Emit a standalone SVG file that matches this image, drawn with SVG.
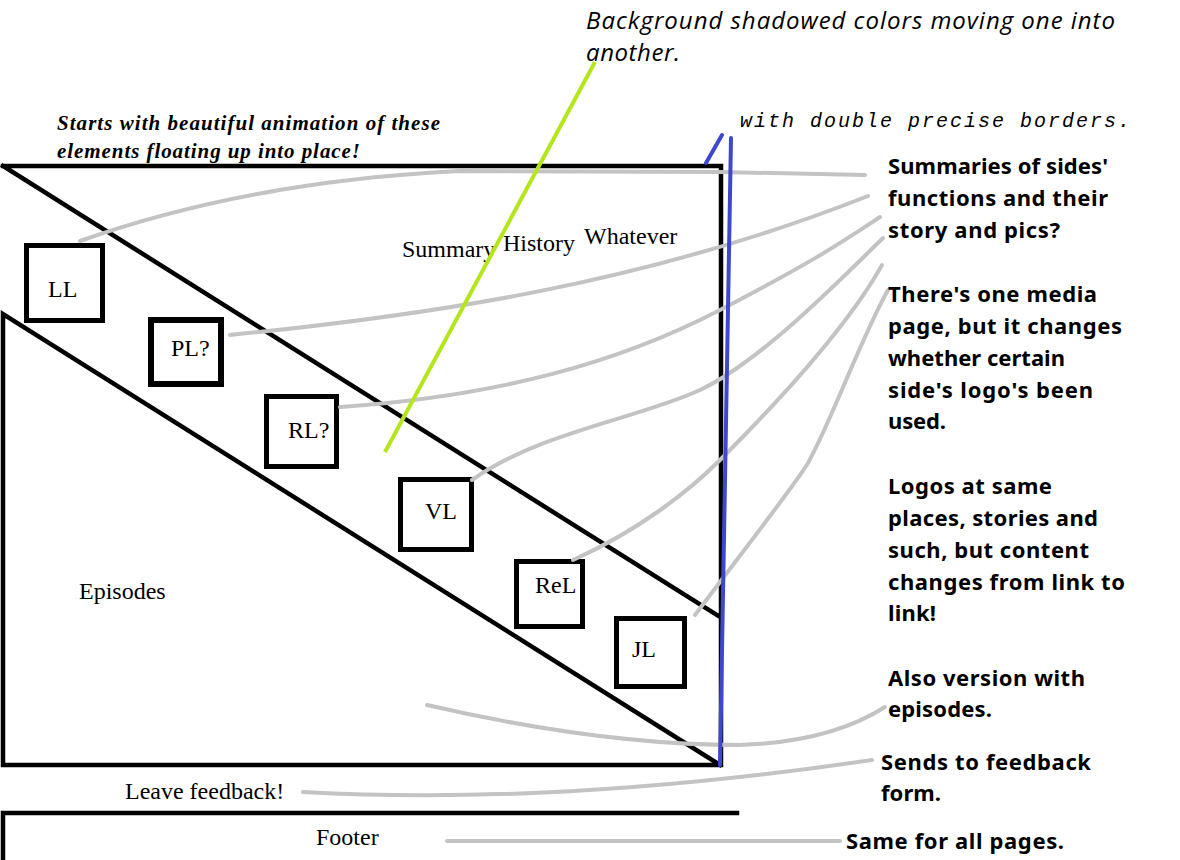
<svg xmlns="http://www.w3.org/2000/svg" width="1180" height="860" viewBox="0 0 1180 860">
  <style>
    .frame { fill: none; stroke: #000; stroke-width: 4.5; stroke-linecap: square; stroke-linejoin: miter; }
    .box { fill: #fff; stroke: #000; stroke-width: 5; }
    .lbl { font-family: "Liberation Serif", "Times New Roman", serif; font-size: 24px; fill: #000; }
    .note { font-family: "Noto Sans", "Liberation Sans", sans-serif; font-weight: bold; font-size: 22px; fill: #000; }
    .link { fill: none; stroke: #c3c3c3; stroke-width: 4; stroke-linecap: round; stroke-linejoin: round; }
    .script { font-family: "Liberation Serif", "DejaVu Serif", serif; font-style: italic; font-weight: bold; font-size: 21px; fill: #000; }
    .bg { font-family: "Open Sans", "Liberation Sans", sans-serif; font-style: italic; font-size: 24px; fill: #000; }
    .mono { font-family: "Liberation Mono", "DejaVu Sans Mono", monospace; font-style: italic; font-size: 20px; fill: #000; }
  </style>
  <rect width="1180" height="860" fill="#fff"/>

  <!-- page outline: header band, diagonal logo strip, episodes area, footer -->
  <g id="page-frame">
    <path class="frame" d="M3,166 H721 V765 H3 V314 L720,765 M3,166 L720,617"/>
    <path class="frame" d="M3,860 V813 H737"/>
  </g>

  <g id="tabs">
    <text class="lbl" x="402" y="257">Summary</text>
    <text class="lbl" x="503" y="251">History</text>
    <text class="lbl" x="584" y="244">Whatever</text>
  </g>

  <g id="episodes"><text class="lbl" x="79" y="599">Episodes</text></g>
  <g id="feedback"><text class="lbl" x="125" y="799">Leave feedback!</text></g>
  <g id="footer"><text class="lbl" x="316" y="845">Footer</text></g>

  <!-- logo boxes along the diagonal -->
  <g id="logo-ll"><rect class="box" x="26.5" y="245.5" width="76" height="75"/><text class="lbl" x="48" y="297">LL</text></g>
  <g id="logo-pl"><rect class="box" x="151" y="320" width="70" height="64" style="stroke-width:6"/><text class="lbl" x="171" y="356">PL?</text></g>
  <g id="logo-rl"><rect class="box" x="266.5" y="396.5" width="70" height="70"/><text class="lbl" x="288" y="438">RL?</text></g>
  <g id="logo-vl"><rect class="box" x="400.5" y="479.5" width="71" height="70"/><text class="lbl" x="425" y="519">VL</text></g>
  <g id="logo-rel"><rect class="box" x="516.5" y="561.5" width="66" height="65"/><text class="lbl" x="535" y="593">ReL</text></g>
  <g id="logo-jl"><rect class="box" x="616.5" y="618.5" width="68" height="68"/><text class="lbl" x="632" y="657">JL</text></g>

  <!-- callout lines -->
  <g id="connectors">
    <path class="link" d="M80,241 Q250,181 460,171 L720,172 L865,175"/>
    <path class="link" d="M230,335 C420,316 640,286 868,196"/>
    <path class="link" d="M340,407 C500,396 620,362 720,310 S845,240 880,217"/>
    <path class="link" d="M472,480 C540,432 640,418 700,390 S840,280 883,238"/>
    <path class="link" d="M573,560 C640,530 690,490 720,460 S840,340 882,265"/>
    <path class="link" d="M695,615 C740,555 795,485 808,463 C832,420 860,340 888,290"/>
    <path class="link" d="M427,705 Q600,745 740,745 Q830,742 885,707"/>
    <path class="link" d="M303,792 Q560,806 872,760"/>
    <path class="link" d="M447,841 H840"/>
    <!-- accent strokes -->
    <path d="M595,62 L385,452" fill="none" stroke="#b5e61d" stroke-width="4"/>
    <path d="M731,138 L720,765 M706,163 L722,135" fill="none" stroke="#3f48cc" stroke-width="4" stroke-linecap="round"/>
  </g>

  <!-- annotations -->
  <g id="note-intro">
    <text class="script" x="57" y="130" textLength="383">Starts with beautiful animation of these</text>
    <text class="script" x="57" y="158" textLength="303">elements floating up into place!</text>
  </g>
  <g id="note-background">
    <text class="bg" x="586" y="29" textLength="529">Background shadowed colors moving one into</text>
    <text class="bg" x="586" y="61" textLength="94">another.</text>
  </g>
  <g id="note-borders">
    <text class="mono" x="740" y="127" textLength="390">with double precise borders.</text>
  </g>
  <g id="note-summaries">
    <text class="note" x="888" y="174" textLength="220">Summaries of sides'</text>
    <text class="note" x="888" y="206" textLength="220">functions and their</text>
    <text class="note" x="888" y="238" textLength="172">story and pics?</text>
  </g>
  <g id="note-media">
    <text class="note" x="888" y="302" textLength="209">There's one media</text>
    <text class="note" x="888" y="334" textLength="234">page, but it changes</text>
    <text class="note" x="888" y="366" textLength="177">whether certain</text>
    <text class="note" x="888" y="398" textLength="205">side's logo's been</text>
    <text class="note" x="888" y="429" textLength="58">used.</text>
  </g>
  <g id="note-logos">
    <text class="note" x="888" y="494" textLength="164">Logos at same</text>
    <text class="note" x="888" y="526" textLength="210">places, stories and</text>
    <text class="note" x="888" y="558" textLength="201">such, but content</text>
    <text class="note" x="888" y="590" textLength="237">changes from link to</text>
    <text class="note" x="888" y="621" textLength="48">link!</text>
  </g>
  <g id="note-episodes">
    <text class="note" x="888" y="686" textLength="197">Also version with</text>
    <text class="note" x="888" y="717" textLength="104">episodes.</text>
  </g>
  <g id="note-feedback">
    <text class="note" x="881" y="770" textLength="210">Sends to feedback</text>
    <text class="note" x="881" y="801" textLength="60">form.</text>
  </g>
  <g id="note-footer">
    <text class="note" x="846" y="849" textLength="218">Same for all pages.</text>
  </g>
</svg>
